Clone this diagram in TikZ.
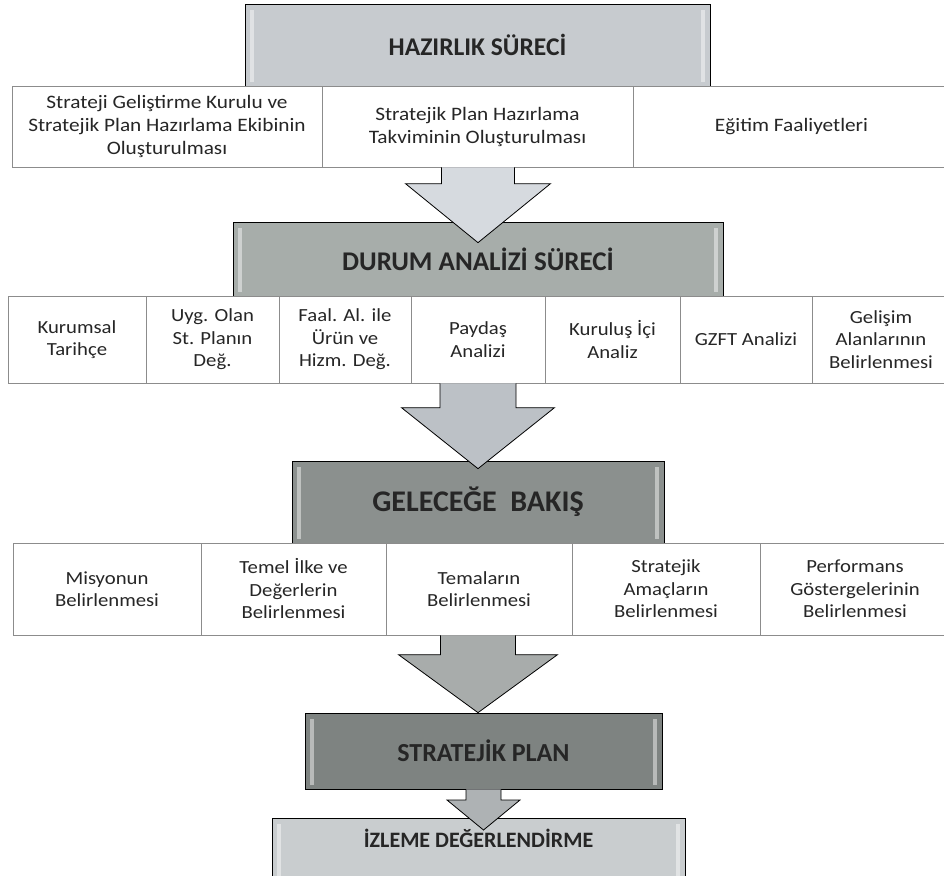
\documentclass[tikz,border=0pt]{standalone}
\usepackage{fontspec}
\setmainfont{Carlito}
\newfontfamily\cellfont{Carlito}[FakeStretch=1.12]
\usetikzlibrary{calc}

\definecolor{hazirC}{HTML}{C7CBCF}
\definecolor{durumC}{HTML}{A7ADAA}
\definecolor{gelecC}{HTML}{8B908E}
\definecolor{planC}{HTML}{7E8381}
\definecolor{izleC}{HTML}{C9CDCF}
\definecolor{arrowA}{HTML}{D6DADF}
\definecolor{arrowB}{HTML}{BCC1C6}
\definecolor{arrowC}{HTML}{A8ACAB}
\definecolor{arrowD}{HTML}{AEB2B4}

\begin{document}
\begin{tikzpicture}[
  x=1pt,y=-1pt,
  phase/.style={draw=black,line width=0.7pt,text=black!85,
    font=\bfseries\fontsize{25.5}{27}\selectfont,
    path picture={
      \fill[white,opacity=0.45] ([xshift=5pt,yshift=4pt]path picture bounding box.south west)
        rectangle ([xshift=9pt,yshift=-6pt]path picture bounding box.north west);
      \fill[white,opacity=0.45] ([xshift=-9pt,yshift=4pt]path picture bounding box.south east)
        rectangle ([xshift=-5pt,yshift=-6pt]path picture bounding box.north east);
    }},
  cell/.style={draw=black!45,line width=0.6pt,fill=white,align=center,text=black!85,
    inner sep=2pt,font=\cellfont\fontsize{19}{23}\selectfont},
  arrowbody/.style={draw=black,line width=0.8pt}
]

% block arrow: from, tip, shaft half width, head half width, head length, fill
\def\blockarrow#1#2#3#4#5#6;{
  \draw[arrowbody,fill=#6] let \p1=#1, \p2=#2 in
    (\x2-#3,\y1) -- (\x2-#3,\y2+#5) -- (\x2-#4,\y2+#5) -- (\x2,\y2)
    -- (\x2+#4,\y2+#5) -- (\x2+#3,\y2+#5) -- (\x2+#3,\y1);
}

\fill[white] (0,0) rectangle (944,875);
\useasboundingbox (0,0) rectangle (944,875);

% hazirlik
\node[phase,fill=hazirC,minimum width=465pt,minimum height=82pt] (hazir) at (477.5,45) {HAZIRLIK SÜRECİ};
\node[cell,minimum width=310pt,minimum height=81pt] (r1a) at (167,126.5) {Strateji Geliştirme Kurulu ve\\Stratejik Plan Hazırlama Ekibinin\\Oluşturulması};
\node[cell,minimum width=311pt,minimum height=81pt] (r1b) at (477.5,126.5) {Stratejik Plan Hazırlama\\Takviminin Oluşturulması};
\node[cell,minimum width=317pt,minimum height=81pt] (r1c) at (791.5,126.5) {Eğitim Faaliyetleri};

% durum analizi
\node[phase,fill=durumC,minimum width=490pt,minimum height=74pt,font=\bfseries\fontsize{27}{29}\selectfont] (dur) at (478,259) {DURUM ANALİZİ SÜRECİ};
\begin{scope}[every node/.append style={cell,minimum height=87pt,font=\cellfont\fontsize{18.5}{22.5}\selectfont}]
\node[minimum width=138pt] (r2a) at (77,339.5) {Kurumsal\\Tarihçe};
\node[minimum width=133pt] (r2b) at (212.5,339.5) {Uyg. Olan\\St. Planın\\Değ.};
\node[minimum width=132pt] (r2c) at (345,339.5) {Faal. Al. ile\\Ürün ve\\Hizm. Değ.};
\node[minimum width=134pt] (r2d) at (478,339.5) {Paydaş\\Analizi};
\node[minimum width=135pt] (r2e) at (612.5,339.5) {Kuruluş İçi\\Analiz};
\node[minimum width=132pt] (r2f) at (746,339.5) {GZFT Analizi};
\node[minimum width=138pt] (r2g) at (881,339.5) {Gelişim\\Alanlarının\\Belirlenmesi};
\end{scope}

% gelecege bakis
\node[phase,fill=gelecC,minimum width=372pt,minimum height=82pt,font=\bfseries\fontsize{30}{32}\selectfont] (gel) at (478,502) {GELECEĞE\ \ BAKIŞ};
\begin{scope}[every node/.append style={cell,minimum height=92pt,font=\cellfont\fontsize{18.5}{22.5}\selectfont}]
\node[minimum width=188pt] (r3a) at (107,589) {Misyonun\\Belirlenmesi};
\node[minimum width=185pt] (r3b) at (293.5,589) {Temel İlke ve\\Değerlerin\\Belirlenmesi};
\node[minimum width=186pt] (r3c) at (479,589) {Temaların\\Belirlenmesi};
\node[minimum width=188pt] (r3d) at (666,589) {Stratejik\\Amaçların\\Belirlenmesi};
\node[minimum width=190pt] (r3e) at (855,589) {Performans\\Göstergelerinin\\Belirlenmesi};
\end{scope}

% plan and izleme
\node[phase,fill=planC,minimum width=357pt,minimum height=76pt,font=\bfseries\fontsize{26}{28}\selectfont] (plan) at (483.5,751) {STRATEJİK PLAN};
\node[phase,fill=izleC,minimum width=413pt,minimum height=100pt,anchor=north] (izle) at (478.5,818) {};
\node[font=\bfseries\fontsize{22}{24}\selectfont,text=black!85] (izletxt) at ($(izle.north)+(0,20)$) {İZLEME DEĞERLENDİRME};

% arrows
\blockarrow{(r1b.south -| dur.north)}{($(dur.north)+(0,21)$)}{36.5pt}{72.5pt}{59pt}{arrowA};
\blockarrow{(r2d.south -| gel.north)}{($(gel.north)+(0,8)$)}{38pt}{76.5pt}{61pt}{arrowB};
\blockarrow{(r3c.south -| gel.south)}{(gel.south |- plan.north)}{37.5pt}{79.5pt}{58pt}{arrowC};
\blockarrow{(plan.south)}{($(plan.south |- izle.north)+(0,12)$)}{17.5pt}{36.5pt}{30pt}{arrowD};

\end{tikzpicture}
\end{document}
